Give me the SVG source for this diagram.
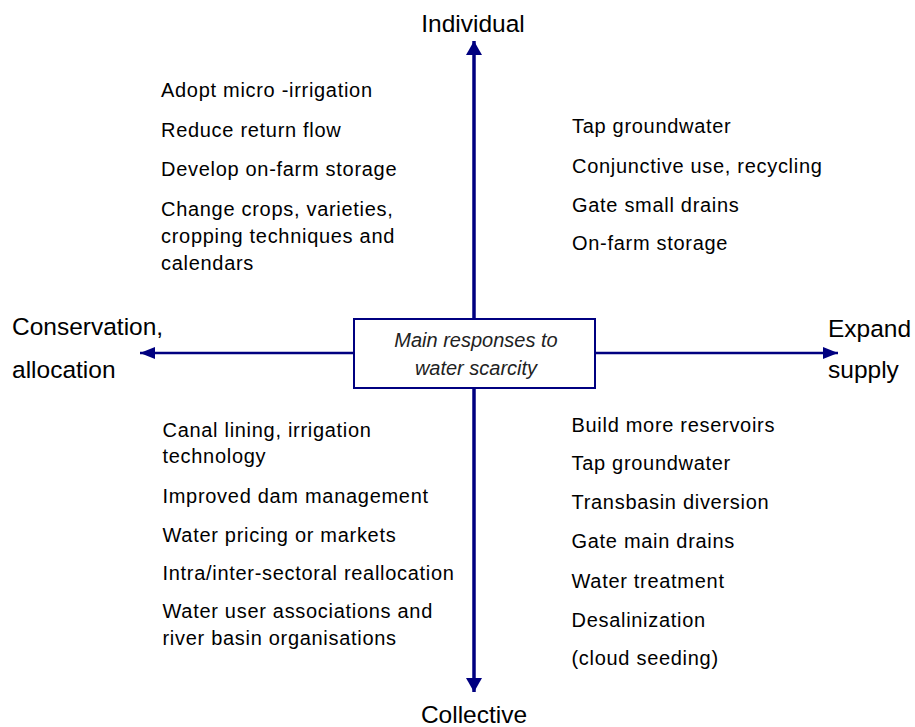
<svg xmlns="http://www.w3.org/2000/svg" width="915" height="727" viewBox="0 0 915 727">
<defs>
<style>
.body{font-family:"Liberation Sans",Arial,sans-serif;font-size:20px;letter-spacing:0.7px;fill:#000}
.axis{font-family:"Liberation Sans",Arial,sans-serif;font-size:24.5px;fill:#000}
.center{font-family:"Liberation Sans",Arial,sans-serif;font-size:20px;font-style:italic;fill:#222;text-anchor:middle}
.v{stroke:#000080;stroke-width:3.5;fill:none}
.h{stroke:#000080;stroke-width:2.3;fill:none}
.box{fill:#fff;stroke:#000080;stroke-width:2}
</style>
<marker id="av" markerUnits="userSpaceOnUse" markerWidth="16" markerHeight="16" viewBox="0 0 16 16" refX="14" refY="8" orient="auto">
<path d="M0,0 L14,8 L0,16 Z" fill="#000080"/>
</marker>
<marker id="ah" markerUnits="userSpaceOnUse" markerWidth="16" markerHeight="12" viewBox="0 0 16 12" refX="15" refY="6" orient="auto">
<path d="M0,0 L15,6 L0,12 Z" fill="#000080"/>
</marker>
</defs>
<g id="connectors">
<line class="v" x1="474" y1="330" x2="474" y2="41" marker-end="url(#av)"/>
<line class="v" x1="474" y1="370" x2="474" y2="692" marker-end="url(#av)"/>
<line class="h" x1="400" y1="353" x2="140" y2="353" marker-end="url(#ah)"/>
<line class="h" x1="550" y1="353" x2="838" y2="353" marker-end="url(#ah)"/>
</g>
<g id="center-node">
<rect class="box" x="354" y="319" width="241" height="69"/>
<text class="center" x="476" y="347">Main responses to</text>
<text class="center" x="476" y="375">water scarcity</text>
</g>
<g id="label-individual"><text class="axis" x="473" y="32" text-anchor="middle">Individual</text></g>
<g id="label-collective"><text class="axis" x="474" y="723" text-anchor="middle">Collective</text></g>
<g id="label-conservation"><text class="axis" x="12" y="335">Conservation,</text><text class="axis" x="12" y="378">allocation</text></g>
<g id="label-expand"><text class="axis" x="828" y="337">Expand</text><text class="axis" x="828" y="378">supply</text></g>
<g id="individual-conservation">
<text class="body" x="161" y="97">Adopt micro -irrigation</text>
<text class="body" x="161" y="136.5">Reduce return flow</text>
<text class="body" x="161" y="176">Develop on-farm storage</text>
<text class="body" x="161" y="215.5">Change crops, varieties,</text>
<text class="body" x="161" y="243.3">cropping techniques and</text>
<text class="body" x="161" y="270">calendars</text>
</g>
<g id="individual-expand">
<text class="body" x="572" y="133.3">Tap groundwater</text>
<text class="body" x="572" y="172.7">Conjunctive use, recycling</text>
<text class="body" x="572" y="211.7">Gate small drains</text>
<text class="body" x="572" y="250">On-farm storage</text>
</g>
<g id="collective-conservation">
<text class="body" x="162.5" y="436.7">Canal lining, irrigation</text>
<text class="body" x="162.5" y="463.3">technology</text>
<text class="body" x="162.5" y="503.3">Improved dam management</text>
<text class="body" x="162.5" y="541.7">Water pricing or markets</text>
<text class="body" x="162.5" y="580">Intra/inter-sectoral reallocation</text>
<text class="body" x="162.5" y="618.3">Water user associations and</text>
<text class="body" x="162.5" y="645">river basin organisations</text>
</g>
<g id="collective-expand">
<text class="body" x="571.5" y="431.7">Build more reservoirs</text>
<text class="body" x="571.5" y="470">Tap groundwater</text>
<text class="body" x="571.5" y="509">Transbasin diversion</text>
<text class="body" x="571.5" y="548.3">Gate main drains</text>
<text class="body" x="571.5" y="587.7">Water treatment</text>
<text class="body" x="571.5" y="626.7">Desalinization</text>
<text class="body" x="571.5" y="665">(cloud seeding)</text>
</g>
</svg>
